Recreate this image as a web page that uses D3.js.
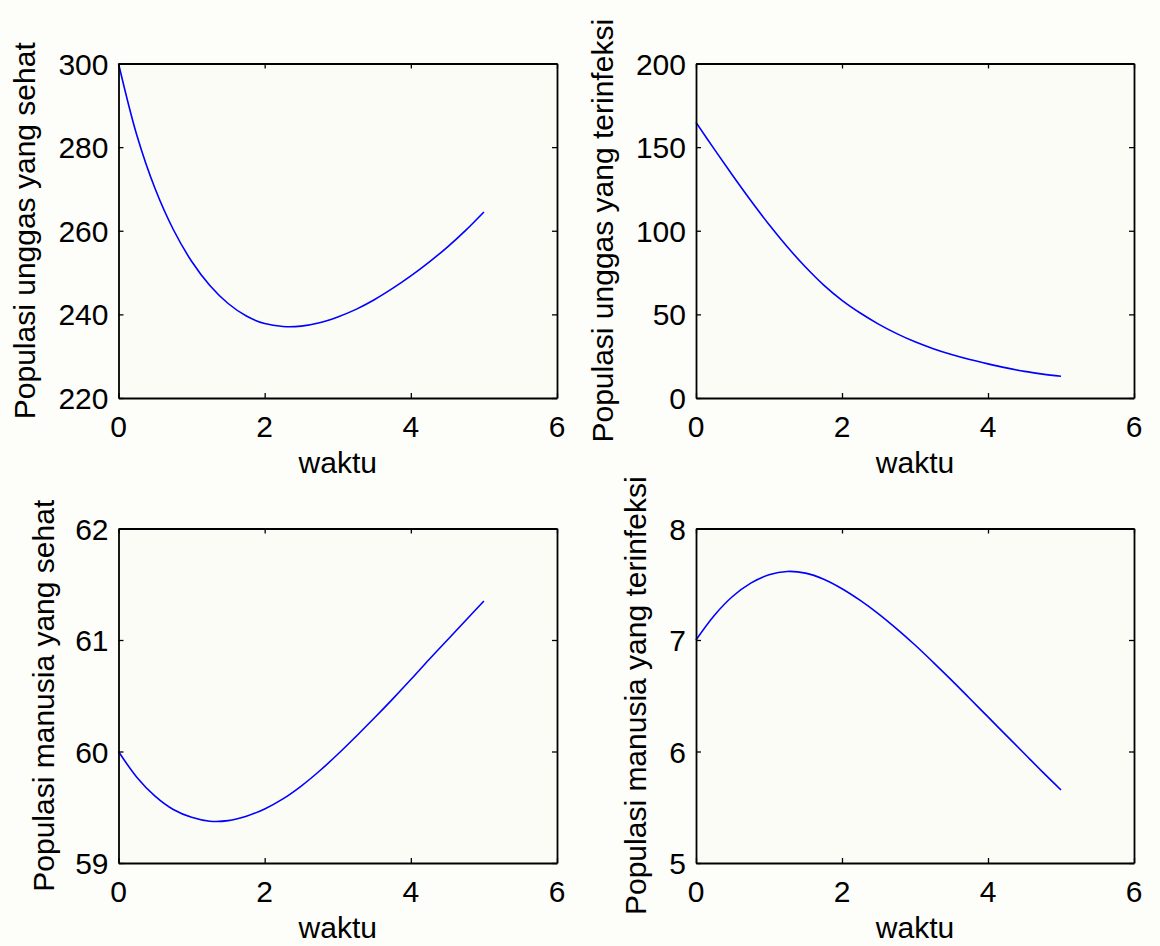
<!DOCTYPE html>
<html>
<head>
<meta charset="utf-8">
<script src="https://cdn.jsdelivr.net/npm/d3@7"></script>
<style>
  html, body { margin: 0; padding: 0; background: #fdfdf9; }
  svg { display: block; }
  text { font-family: "Liberation Sans", Arial, Helvetica, sans-serif; fill: #000; }
</style>
</head>
<body>
<script>
// ---- data ----
const waktu = [0, 0.25, 0.5, 0.75, 1, 1.25, 1.5, 1.75, 2, 2.25, 2.5, 2.75, 3, 3.25, 3.5, 3.75, 4, 4.25, 4.5, 4.75, 5];
const unggasSehat = [300, 282.9, 270.1, 260.3, 252.7, 246.9, 242.6, 239.6, 237.8, 237.1, 237.2, 238.0, 239.4, 241.2, 243.5, 246.2, 249.2, 252.5, 256.1, 260.1, 264.5];
const unggasTerinfeksi = [164.8, 148.8, 133.2, 118.1, 103.7, 90.4, 78.3, 67.5, 58.4, 50.8, 44.2, 38.5, 33.6, 29.5, 26.0, 23.0, 20.4, 18.0, 15.9, 14.3, 13.0];
const manusiaSehat = [60.0, 59.77, 59.60, 59.48, 59.41, 59.375, 59.38, 59.42, 59.485, 59.575, 59.69, 59.825, 59.975, 60.135, 60.30, 60.47, 60.645, 60.825, 61.0, 61.175, 61.35];
const manusiaTerinfeksi = [7.0, 7.22, 7.39, 7.51, 7.585, 7.615, 7.60, 7.545, 7.46, 7.355, 7.235, 7.10, 6.955, 6.80, 6.64, 6.475, 6.31, 6.145, 5.98, 5.815, 5.655];

const xTicks = [0, 2, 4, 6];
const yTicksUS = [220, 240, 260, 280, 300];
const yTicksUT = [0, 50, 100, 150, 200];
const yTicksMS = [59, 60, 61, 62];
const yTicksMT = [5, 6, 7, 8];

const xLabel = "waktu";
const yLabels = [
  "Populasi unggas yang sehat",
  "Populasi unggas yang terinfeksi",
  "Populasi manusia yang sehat",
  "Populasi manusia yang terinfeksi"
];

// ---- layout ----
const W = 1160, H = 946;
const FS = 30;
const panels = [
  { x0: 118.5, x1: 557, y0: 63.5, y1: 398, yDom: [220, 300], yTicks: yTicksUS, values: unggasSehat, label: yLabels[0], labelX: 35 },
  { x0: 696, x1: 1134, y0: 63.5, y1: 398, yDom: [0, 200], yTicks: yTicksUT, values: unggasTerinfeksi, label: yLabels[1], labelX: 613 },
  { x0: 118.5, x1: 557, y0: 528.5, y1: 863, yDom: [59, 62], yTicks: yTicksMS, values: manusiaSehat, label: yLabels[2], labelX: 54 },
  { x0: 696, x1: 1134, y0: 528.5, y1: 863, yDom: [5, 8], yTicks: yTicksMT, values: manusiaTerinfeksi, label: yLabels[3], labelX: 646 }
];

const svg = d3.select("body").append("svg").attr("width", W).attr("height", H);
svg.append("rect").attr("width", W).attr("height", H).attr("fill", "#fdfdf9");

panels.forEach(p => {
  const x = d3.scaleLinear().domain([0, 6]).range([p.x0, p.x1]);
  const y = d3.scaleLinear().domain(p.yDom).range([p.y1, p.y0]);
  const g = svg.append("g");

  g.append("rect").attr("x", p.x0).attr("y", p.y0)
    .attr("width", p.x1 - p.x0).attr("height", p.y1 - p.y0)
    .attr("fill", "#fcfcf7");

  // data line
  const line = d3.line().x((d, i) => x(waktu[i])).y(d => y(d)).curve(d3.curveCatmullRom.alpha(0.5));
  g.append("path").datum(p.values).attr("d", line)
    .attr("fill", "none").attr("stroke", "#0000ff").attr("stroke-width", 1.6);

  // axes (inward ticks on all four sides)
  const tl = 5;
  const bottom = g.append("g").attr("transform", `translate(0,${p.y1})`)
    .call(d3.axisBottom(x).tickValues(xTicks).tickSizeInner(-tl).tickSizeOuter(0).tickFormat(() => ""));
  const top = g.append("g").attr("transform", `translate(0,${p.y0})`)
    .call(d3.axisTop(x).tickValues(xTicks).tickSizeInner(-tl).tickSizeOuter(0).tickFormat(() => ""));
  const left = g.append("g").attr("transform", `translate(${p.x0},0)`)
    .call(d3.axisLeft(y).tickValues(p.yTicks).tickSizeInner(-tl).tickSizeOuter(0).tickFormat(() => ""));
  const right = g.append("g").attr("transform", `translate(${p.x1},0)`)
    .call(d3.axisRight(y).tickValues(p.yTicks).tickSizeInner(-tl).tickSizeOuter(0).tickFormat(() => ""));
  [bottom, top, left, right].forEach(a => {
    a.select(".domain").attr("stroke", "#000").attr("stroke-width", 1.8);
    a.selectAll(".tick line").attr("stroke", "#000").attr("stroke-width", 1.3);
  });

  // x tick labels
  g.selectAll(".xtl").data(xTicks).join("text")
    .attr("x", d => x(d)).attr("y", p.y1 + 39)
    .attr("text-anchor", "middle").attr("font-size", FS).text(d => d);

  // y tick labels
  g.selectAll(".ytl").data(p.yTicks).join("text")
    .attr("x", p.x0 - 10).attr("y", d => y(d) + 11)
    .attr("text-anchor", "end").attr("font-size", FS).text(d => d);

  // x label
  g.append("text").attr("x", (p.x0 + p.x1) / 2).attr("y", p.y1 + 75)
    .attr("text-anchor", "middle").attr("font-size", FS).text(xLabel);

  // y label
  const cy = (p.y0 + p.y1) / 2;
  g.append("text").attr("transform", `translate(${p.labelX},${cy}) rotate(-90)`)
    .attr("text-anchor", "middle").attr("font-size", FS).text(p.label);
});
</script>
</body>
</html>
